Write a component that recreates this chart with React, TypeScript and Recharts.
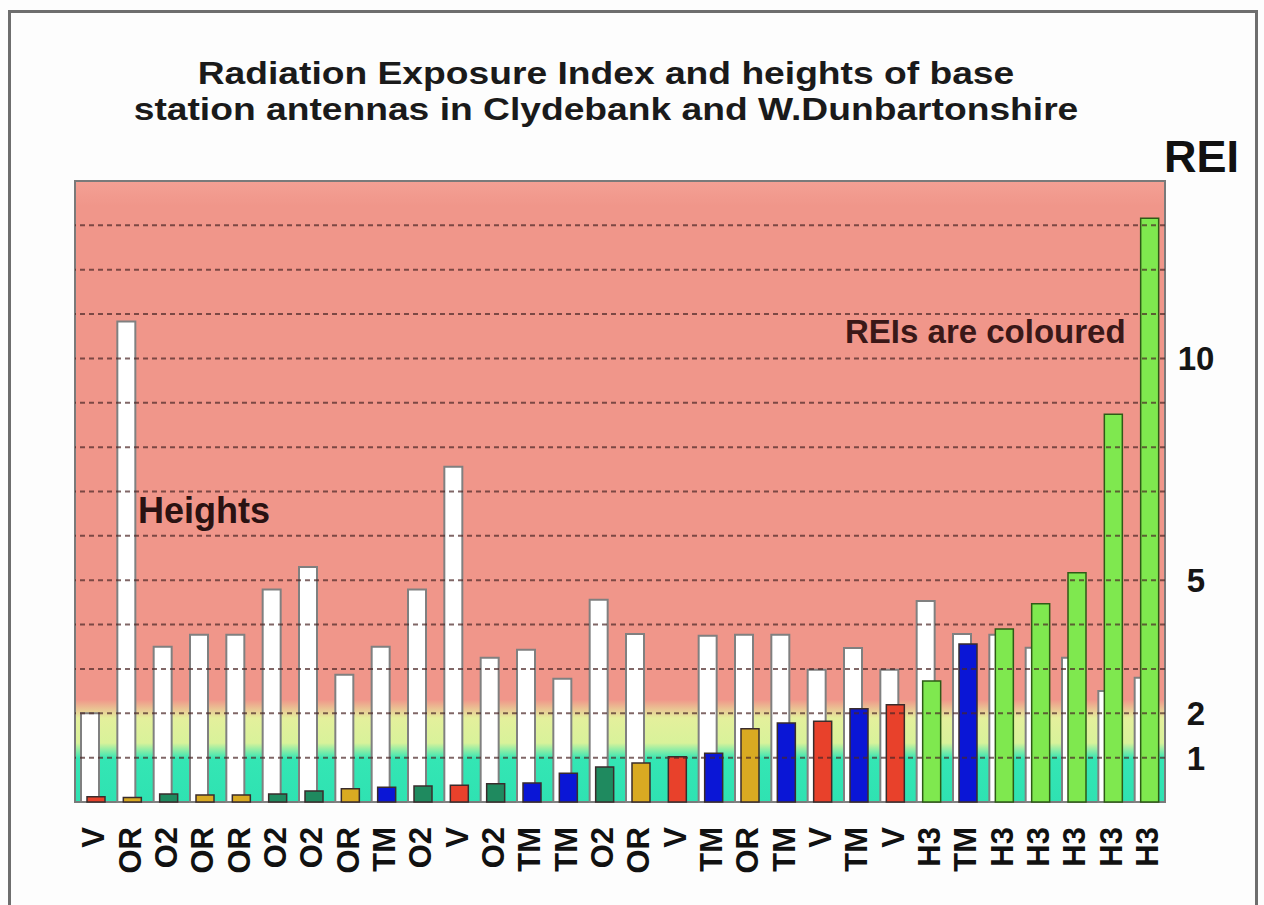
import { BarChart, Bar, XAxis, YAxis, ReferenceArea, ReferenceLine, Cell } from 'recharts';

// operator of each antenna site, left to right
const sites = ['V', 'OR', 'O2', 'OR', 'OR', 'O2', 'O2', 'OR', 'TM', 'O2', 'V', 'O2', 'TM', 'TM', 'O2', 'OR', 'V', 'TM', 'OR', 'TM', 'V', 'TM', 'V', 'H3', 'TM', 'H3', 'H3', 'H3', 'H3', 'H3'];

// antenna heights, drawn on the REI scale (white bars)
const heights = [2.0, 10.83, 3.5, 3.77, 3.77, 4.79, 5.3, 2.87, 3.5, 4.79, 7.56, 3.25, 3.43, 2.78, 4.56, 3.79, null, 3.75, 3.77, 3.77, 2.98, 3.47, 2.98, 4.53, 3.79, 3.77, 3.48, 3.25, 2.5, 2.8];

// radiation exposure index (coloured bars)
const reiValues = [0.12, 0.1, 0.18, 0.16, 0.16, 0.18, 0.25, 0.3, 0.33, 0.36, 0.38, 0.41, 0.43, 0.65, 0.79, 0.88, 1.02, 1.1, 1.65, 1.78, 1.82, 2.1, 2.19, 2.73, 3.56, 3.9, 4.47, 5.17, 8.74, 13.16];

const reiTicks = [1, 2, 5, 10];
const gridValues = [1, 2, 3, 4, 5, 6, 7, 8, 9, 10, 11, 12, 13];

const operatorColors: Record<string, string> = {
  V: '#e8412b',
  OR: '#d9aa22',
  O2: '#1f8a5f',
  TM: '#0a16d6',
  H3: '#7fe84f',
};

const data = sites.map((s, i) => ({ site: s, height: heights[i], rei: reiValues[i] }));

const FONT = 'Arial, "Liberation Sans", Helvetica, sans-serif';

const SiteTick = ({ x, y, payload }: any) => {
  const ty = y + 25;
  return (
    <text
      x={x}
      y={ty}
      dy="0.36em"
      transform={`rotate(-90 ${x} ${ty})`}
      textAnchor="end"
      fontFamily={FONT}
      fontWeight="bold"
      fontSize={31}
      fill="#111"
    >
      {payload.value}
    </text>
  );
};

const ReiTick = ({ x, y, payload }: any) => (
  <text x={x + 31} y={y} dy="0.36em" textAnchor="middle" fontFamily={FONT} fontWeight="bold" fontSize={33} fill="#151515">
    {payload.value}
  </text>
);

export default function App() {
  return (
    <div style={{ position: 'absolute', left: 0, top: 0, width: 1264, height: 905, background: '#fdfdfd', fontFamily: FONT }}>
      <div style={{ position: 'absolute', left: 8, top: 10, width: 1250, height: 900, border: '3px solid #6e6e6e', boxSizing: 'border-box' }} />

      <div
        style={{
          position: 'absolute',
          left: 0,
          width: 1212,
          top: 56,
          textAlign: 'center',
          fontSize: 31,
          fontWeight: 'bold',
          lineHeight: '36px',
          color: '#1a1a1a',
          transform: 'scaleX(1.2)',
          transformOrigin: '606px 0',
        }}
      >
        Radiation Exposure Index and heights of base
        <br />
        station antennas in Clydebank and W.Dunbartonshire
      </div>

      <BarChart
        width={1264}
        height={905}
        data={data}
        margin={{ top: 181, right: 0, bottom: 0, left: 75 }}
        barSize={18}
        barGap={-12}
      >
        <defs>
          <linearGradient id="reiBands" x1="0" y1="0" x2="0" y2="1">
            <stop offset="0" stopColor="#f4a094" />
            <stop offset="0.04" stopColor="#f0968a" />
            <stop offset="0.835" stopColor="#f0968a" />
            <stop offset="0.865" stopColor="#e4f09c" />
            <stop offset="0.905" stopColor="#d8f29a" />
            <stop offset="0.93" stopColor="#34e6b4" />
            <stop offset="1" stopColor="#2fe2b2" />
          </linearGradient>
        </defs>
        <XAxis
          dataKey="site"
          height={103}
          axisLine={false}
          tickLine={false}
          tickSize={0}
          tickMargin={0}
          interval={0}
          tick={<SiteTick />}
        />
        <YAxis
          orientation="right"
          width={99}
          domain={[0, 14]}
          ticks={reiTicks}
          axisLine={false}
          tickLine={false}
          tickSize={0}
          tickMargin={0}
          tick={<ReiTick />}
        />
        <ReferenceArea y1={0} y2={14} fill="url(#reiBands)" fillOpacity={1} stroke="#7a7a7a" strokeWidth={2} ifOverflow="visible" />
        <Bar dataKey="height" fill="#ffffff" stroke="#808080" strokeWidth={2} isAnimationActive={false} />
        {gridValues.map((v) => (
          <ReferenceLine key={v} y={v} stroke="#4a2626" strokeDasharray="5 4" strokeWidth={2} strokeOpacity={0.7} />
        ))}
        <Bar dataKey="rei" strokeWidth={1.5} isAnimationActive={false}>
          {data.map((d, i) => (
            <Cell key={i} fill={operatorColors[d.site]} stroke={d.site === 'H3' ? '#2e5a16' : '#3a2c2c'} />
          ))}
        </Bar>
      </BarChart>

      <div style={{ position: 'absolute', left: 1164, top: 131, fontSize: 45, fontWeight: 'bold', lineHeight: 'normal', color: '#111' }}>REI</div>
      <div style={{ position: 'absolute', left: 138, top: 490, fontSize: 36, fontWeight: 'bold', color: '#2a1212' }}>Heights</div>
      <div style={{ position: 'absolute', left: 845, top: 313, fontSize: 33, fontWeight: 'bold', color: '#3a1818' }}>REIs are coloured</div>
    </div>
  );
}
